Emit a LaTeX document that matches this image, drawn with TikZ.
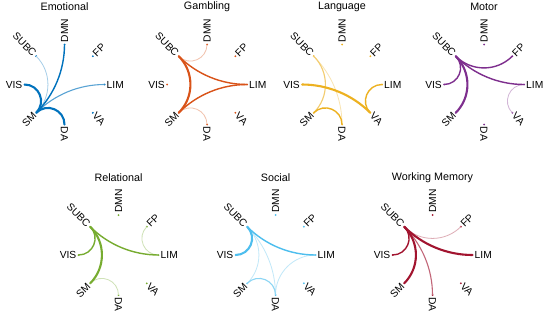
\documentclass[tikz,border=0pt]{standalone}
\usepackage{fontspec}
\setmainfont{Liberation Sans}
\usetikzlibrary{calc}
\definecolor{mblue}{rgb}{0,0.447,0.741}
\definecolor{morange}{rgb}{0.85,0.325,0.098}
\definecolor{myellow}{rgb}{0.929,0.694,0.125}
\definecolor{mpurple}{rgb}{0.494,0.184,0.556}
\definecolor{mgreen}{rgb}{0.466,0.674,0.188}
\definecolor{mcyan}{rgb}{0.301,0.745,0.933}
\definecolor{mred}{rgb}{0.635,0.078,0.184}
\colorlet{pc}{mblue}
\tikzset{
  dotnode/.style={circle, fill=pc, inner sep=0pt, minimum size=2bp},
  lab/.style={font=\fontsize{10.3}{12}\selectfont, inner xsep=2bp, inner ysep=0pt},
  ttl/.style={font=\fontsize{10.8}{13}\selectfont},
  wa/.style={draw=pc!35, line width=0.8bp},
  wb/.style={draw=pc!65, line width=1.1bp},
  wc/.style={draw=pc, line width=1.4bp},
  wd/.style={draw=pc, line width=2.1bp},
}
\def\kA{0.369}
\def\kB{0.552}
\def\kC{0.640}
\newcommand\mypanel[5]{%
  \coordinate (#1O) at (#2,#3);
  \node[ttl] (#1T) at (#2,#3+77.5) {#5};
  \foreach \nm/\ang in {VIS/180,SM/225,DA/270,VA/315,LIM/0,FP/45,DMN/90,SUBC/135} {
    \node[dotnode] (#1\nm) at ($(#1O)+(\ang:40)$) {};
  }
  \foreach \nm/\ang in {LIM/0,FP/45,DMN/90,VA/-45,DA/-90} {
    \node[lab, rotate=\ang, anchor=west] (#1\nm-l) at (#1\nm.center) {\nm};
  }
  \foreach \nm/\ang in {VIS/0,SM/45,SUBC/-45} {
    \node[lab, rotate=\ang, anchor=east] (#1\nm-l) at (#1\nm.center) {\nm};
  }
}
\newcommand\chord[5]{\draw[#1] (#2#3.center) .. controls ($(#2#3)!#5!(#2O)$) and ($(#2#4)!#5!(#2O)$) .. (#2#4.center);}
\begin{document}
\begin{tikzpicture}[x=1bp, y=1bp]
\fill[white] (0,0) rectangle (550,318);
\useasboundingbox (0,0) rectangle (550,318);
% Emotional
\begin{scope}
\colorlet{pc}{mblue}
\mypanel{a}{64.5}{233.5}{mblue}{Emotional}
\chord{wa}{a}{SM}{SUBC}{\kB}
\chord{wb}{a}{SM}{LIM}{\kC}
\chord{wc}{a}{SM}{DMN}{\kC}
\chord{wd}{a}{SM}{VIS}{\kA}
\chord{wd}{a}{SM}{DA}{\kA}
\end{scope}
% Gambling
\begin{scope}
\colorlet{pc}{morange}
\mypanel{b}{207}{233.5}{morange}{Gambling}
\chord{wa}{b}{SUBC}{DMN}{\kA}
\chord{wa}{b}{SM}{DA}{\kA}
\chord{wc}{b}{SUBC}{LIM}{\kC}
\chord{wc}{b}{SM}{LIM}{\kC}
\chord{wd}{b}{SUBC}{SM}{\kB}
\end{scope}
% Language
\begin{scope}
\colorlet{pc}{myellow}
\mypanel{c}{342}{233.5}{myellow}{Language}
\chord{wa}{c}{SUBC}{DA}{\kC}
\chord{wb}{c}{SUBC}{SM}{\kB}
\chord{wc}{c}{SM}{DA}{\kA}
\chord{wc}{c}{LIM}{VA}{\kA}
\chord{wd}{c}{VIS}{VA}{\kC}
\end{scope}
% Motor
\begin{scope}
\colorlet{pc}{mpurple}
\mypanel{d}{484}{233.5}{mpurple}{Motor}
\chord{wa}{d}{LIM}{VA}{\kA}
\chord{wc}{d}{SUBC}{VIS}{\kA}
\chord{wc}{d}{SUBC}{FP}{\kB}
\chord{wc}{d}{SUBC}{LIM}{\kC}
\chord{wd}{d}{SUBC}{SM}{\kB}
\end{scope}
% Relational
\begin{scope}
\colorlet{pc}{mgreen}
\mypanel{e}{118.5}{63}{mgreen}{Relational}
\chord{wa}{e}{FP}{LIM}{\kA}
\chord{wa}{e}{SM}{DA}{\kA}
\chord{wc}{e}{SUBC}{VIS}{\kA}
\chord{wc}{e}{SUBC}{LIM}{\kC}
\chord{wd}{e}{SUBC}{SM}{\kB}
\end{scope}
% Social
\begin{scope}
\colorlet{pc}{mcyan}
\mypanel{f}{275.5}{63}{mcyan}{Social}
\chord{wa}{f}{LIM}{DA}{\kB}
\chord{wa}{f}{SUBC}{SM}{\kB}
\chord{wa}{f}{SUBC}{DA}{\kC}
\chord{wb}{f}{SM}{DA}{\kA}
\chord{wc}{f}{SUBC}{LIM}{\kC}
\chord{wd}{f}{SUBC}{VIS}{\kA}
\end{scope}
% Working Memory
\begin{scope}
\colorlet{pc}{mred}
\mypanel{g}{432.5}{63}{mred}{Working Memory}
\chord{wa}{g}{SUBC}{FP}{\kB}
\chord{wb}{g}{SUBC}{DA}{\kC}
\chord{wc}{g}{SUBC}{VIS}{\kA}
\chord{wd}{g}{SUBC}{SM}{\kB}
\chord{wd}{g}{SUBC}{LIM}{\kC}
\end{scope}
\end{tikzpicture}
\end{document}
